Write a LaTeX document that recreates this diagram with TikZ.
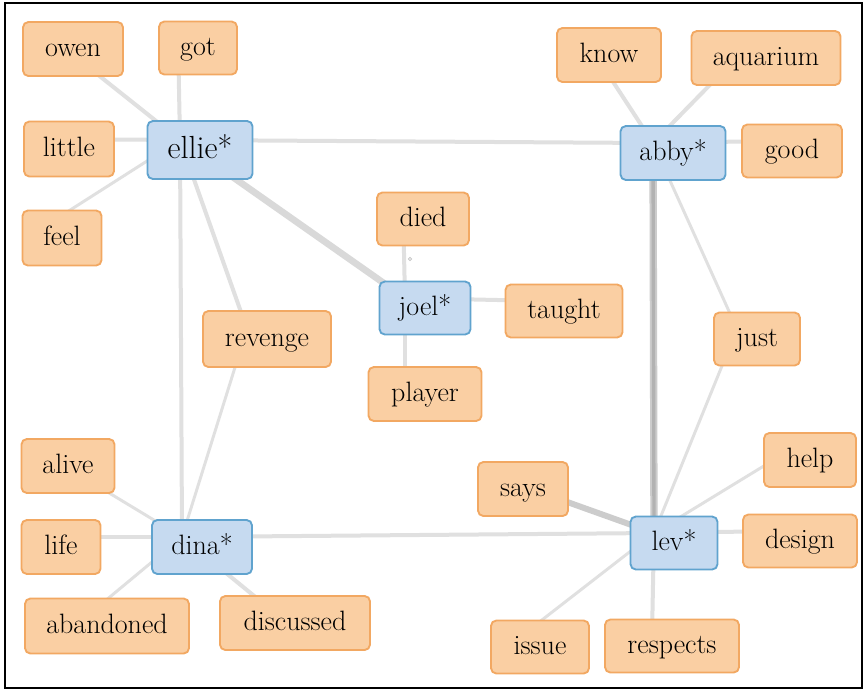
\documentclass[tikz,border=0pt]{standalone}
\usetikzlibrary{backgrounds}
\definecolor{wordfill}{RGB}{250,207,163}
\definecolor{worddraw}{RGB}{242,168,98}
\definecolor{keyfill}{RGB}{198,218,240}
\definecolor{keydraw}{RGB}{96,163,206}
\definecolor{linkgray}{RGB}{224,224,224}
\newcommand\conn[3][]{\draw[edge,#1] ([shift={(-20,-10)}]#2.center) -- ([shift={(-20,-10)}]#3.center);}
\begin{document}
\begin{tikzpicture}[x=0.75pt,y=-0.75pt,
  box/.style={rounded corners=4pt,line width=1.4pt,inner sep=0pt,
    text height=14pt,text depth=3pt,font=\fontsize{21}{24}\selectfont},
  word/.style={box,fill=wordfill,draw=worddraw},
  key/.style={box,fill=keyfill,draw=keydraw},
  bw/.style={minimum width=#1*0.75pt},
  bh/.style={minimum height=#1*0.75pt},
  edge/.style={draw=linkgray,line width=3pt},
  thin/.style={line width=2.2pt},
  heavy/.style={line width=5pt,draw=black!15},
]
\useasboundingbox (0,0) rectangle (866,690);

% central keyword nodes
\node[key,bw=105,bh=58,font=\fontsize{24}{28}\selectfont,text height=16pt,text depth=3.5pt] (ellie) at (200,150) {ellie*};
\node[key,bw=91,bh=53] (joel) at (425,308) {joel*};
\node[key,bw=105,bh=54] (abby) at (673,153) {abby*};
\node[key,bw=87,bh=53] (lev) at (674,543) {lev*};
\node[key,bw=100,bh=54] (dina) at (202,547) {dina*};

% associated words
\node[word,bw=100,bh=54] (owen) at (73,49) {owen};
\node[word,bw=78,bh=53] (got) at (198,48) {got};
\node[word,bw=90,bh=55] (little) at (69,149) {little};
\node[word,bw=79,bh=55] (feel) at (62,238) {feel};
\node[word,bw=92,bh=53] (died) at (423,219) {died};
\node[word,bw=117,bh=53] (taught) at (564,311) {taught};
\node[word,bw=128,bh=56] (revenge) at (267,339) {revenge};
\node[word,bw=113,bh=54] (player) at (425,394) {player};
\node[word,bw=104,bh=54] (know) at (609,55) {know};
\node[word,bw=149,bh=54] (aquarium) at (766,58) {aquarium};
\node[word,bw=100,bh=53] (good) at (792,151) {good};
\node[word,bw=86,bh=53] (just) at (757,339) {just};
\node[word,bw=92,bh=54] (help) at (810,460) {help};
\node[word,bw=90,bh=54] (says) at (523,489) {says};
\node[word,bw=114,bh=53] (design) at (800,541) {design};
\node[word,bw=98,bh=53] (issue) at (540,647) {issue};
\node[word,bw=134,bh=53] (respects) at (672,646) {respects};
\node[word,bw=93,bh=54] (alive) at (68,466) {alive};
\node[word,bw=79,bh=54] (life) at (61,547) {life};
\node[word,bw=164,bh=55] (abandoned) at (107,626) {abandoned};
\node[word,bw=150,bh=54] (discussed) at (295,623) {discussed};

\begin{scope}[on background layer]
  \fill[white] (0,0) rectangle (866,690);
  % ellie
  \conn{ellie}{owen}
  \conn{ellie}{got}
  \conn{ellie}{little}
  \conn[thin]{ellie}{feel}
  \conn{ellie}{abby}
  \conn[heavy]{ellie}{joel}
  \conn{ellie}{revenge}
  \conn{ellie}{dina}
  % joel
  \conn{joel}{died}
  \conn{joel}{taught}
  \conn{joel}{player}
  % abby
  \conn{abby}{know}
  \conn{abby}{aquarium}
  \conn{abby}{good}
  \conn[thin]{abby}{just}
  \conn[line width=5.5pt,draw=black!20]{abby}{lev}
  \conn[line width=2.5pt,draw=black!30]{abby}{lev}
  % lev
  \conn[thin]{lev}{just}
  \conn[thin]{lev}{help}
  \conn{lev}{design}
  \conn[line width=4.5pt,draw=black!20]{lev}{says}
  \conn[thin]{lev}{issue}
  \conn{lev}{respects}
  \conn{lev}{dina}
  % dina
  \conn[thin]{dina}{alive}
  \conn{dina}{life}
  \conn[thin]{dina}{abandoned}
  \conn{dina}{discussed}
  \conn[thin]{dina}{revenge}
  \draw[black!25,line width=0.6pt] (410,259) circle (1.6);
\end{scope}

% outer frame
\draw[line width=1.6pt] (5,3) rectangle (862,688);
\end{tikzpicture}
\end{document}
